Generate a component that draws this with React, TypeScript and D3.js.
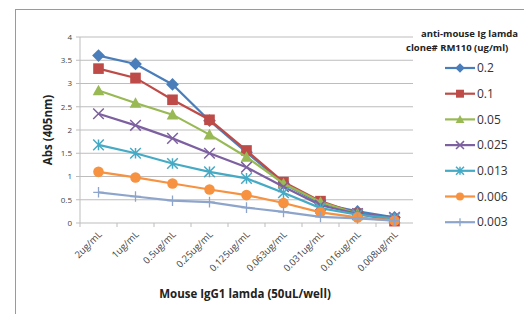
import React from "react";
import * as d3 from "d3";

const categories = ["2ug/mL", "1ug/mL", "0.5ug/mL", "0.25ug/mL", "0.125ug/mL", "0.063ug/mL", "0.031ug/mL", "0.016ug/mL", "0.008ug/mL"];
const seriesNames = ["0.2", "0.1", "0.05", "0.025", "0.013", "0.006", "0.003"];
const s02 = [3.6, 3.42, 2.98, 2.2, 1.52, 0.85, 0.42, 0.25, 0.12];
const s01 = [3.32, 3.12, 2.65, 2.22, 1.56, 0.88, 0.47, 0.2, 0.04];
const s005 = [2.85, 2.58, 2.33, 1.9, 1.42, 0.85, 0.45, 0.2, 0.1];
const s0025 = [2.35, 2.1, 1.82, 1.5, 1.2, 0.78, 0.38, 0.2, 0.12];
const s0013 = [1.68, 1.5, 1.28, 1.1, 0.96, 0.65, 0.32, 0.18, 0.1];
const s0006 = [1.1, 0.98, 0.85, 0.72, 0.6, 0.43, 0.23, 0.12, 0.05];
const s0003 = [0.66, 0.57, 0.48, 0.45, 0.33, 0.24, 0.13, 0.1, 0.05];
const yTicks = [0, 0.5, 1, 1.5, 2, 2.5, 3, 3.5, 4];

const seriesValues = [s02, s01, s005, s0025, s0013, s0006, s0003];
const colors = ["#4A7EBB", "#BE4B48", "#98B954", "#7D60A0", "#46AAC5", "#F69240", "#8EA5CB"];
const markers = ["diamond", "square", "triangle", "x", "star", "circle", "plus"];

function Marker({ type, x, y, color, s = 1 }: { type: string; x: number; y: number; color: string; s?: number }) {
  const r = 5.3 * s;
  switch (type) {
    case "diamond":
      return <path d={`M${x},${y - r * 1.2}L${x + r * 1.2},${y}L${x},${y + r * 1.2}L${x - r * 1.2},${y}Z`} fill={color} />;
    case "square":
      return <rect x={x - r} y={y - r} width={2 * r} height={2 * r} fill={color} />;
    case "triangle":
      return <path d={`M${x},${y - r * 1.1}L${x + r * 1.1},${y + r * 0.9}L${x - r * 1.1},${y + r * 0.9}Z`} fill={color} />;
    case "x":
      return <path d={`M${x - r},${y - r}L${x + r},${y + r}M${x - r},${y + r}L${x + r},${y - r}`} stroke={color} strokeWidth={1.5} />;
    case "star":
      return <path d={`M${x - r},${y - r}L${x + r},${y + r}M${x - r},${y + r}L${x + r},${y - r}M${x},${y - r}L${x},${y + r}`} stroke={color} strokeWidth={1.5} />;
    case "circle":
      return <circle cx={x} cy={y} r={r} fill={color} />;
    case "plus":
      return <path d={`M${x - r},${y}L${x + r},${y}M${x},${y - r}L${x},${y + r}`} stroke={color} strokeWidth={1.3} />;
  }
  return null;
}

export default function App() {
  const W = 524, H = 314;
  const left = 80, right = 413, top = 37, bottom = 223;
  const x = d3.scaleBand<string>().domain(categories).range([left, right]);
  const y = d3.scaleLinear().domain([0, 4]).range([bottom, top]);
  const cx = (c: string) => (x(c) as number) + x.bandwidth() / 2;
  const line = d3.line<number>().x((_, i) => cx(categories[i])).y((v) => y(v));
  const legendY = (i: number) => 68 + i * 25.7;

  return (
    <svg width={W} height={H} style={{ position: "absolute", left: 0, top: 0, background: "#fff" }} fontFamily="Open Sans, Noto Sans, sans-serif">
      <rect x={15.5} y={9.5} width={520} height={320} fill="#fff" stroke="#9a9a9a" />
      {yTicks.map((t) => (
        <g key={t}>
          <line x1={left - 4} x2={right} y1={y(t)} y2={y(t)} stroke="#bdbdbd" strokeWidth={1} />
          <text x={left - 8} y={y(t)} dy="0.35em" textAnchor="end" fontSize={8} fill="#444">{t}</text>
        </g>
      ))}
      <line x1={left} x2={left} y1={top} y2={bottom} stroke="#bdbdbd" />
      {categories.map((c) => (
        <g key={c}>
          <line x1={(x(c) as number)} x2={(x(c) as number)} y1={bottom} y2={bottom + 4} stroke="#bdbdbd" />
          <text transform={`translate(${cx(c) + 4},${bottom + 12}) rotate(-45)`} textAnchor="end" fontSize={9.5} fill="#444">{c}</text>
        </g>
      ))}
      {seriesValues.map((vals, si) => (
        <g key={si}>
          <path d={line(vals) || ""} fill="none" stroke={colors[si]} strokeWidth={2.2} />
          {vals.map((v, i) => (
            <Marker key={i} type={markers[si]} x={cx(categories[i])} y={y(v)} color={colors[si]} />
          ))}
        </g>
      ))}
      <text transform={`translate(52,${(top + bottom) / 2}) rotate(-90)`} textAnchor="middle" fontSize={11.5} fontWeight="bold" fill="#222">Abs (405nm)</text>
      <text x={245} y={298} textAnchor="middle" fontSize={11.5} fontWeight="bold" fill="#222">Mouse IgG1 lamda (50uL/well)</text>
      <text x={421} y={37} fontSize={9.5} fontWeight="bold" fill="#222">anti-mouse Ig lamda</text>
      <text x={406} y={51} fontSize={9.5} fontWeight="bold" fill="#222">clone# RM110 (ug/ml)</text>
      {seriesNames.map((n, i) => (
        <g key={n}>
          <line x1={445} x2={475} y1={legendY(i)} y2={legendY(i)} stroke={colors[i]} strokeWidth={2.2} />
          <Marker type={markers[i]} x={460} y={legendY(i)} color={colors[i]} s={0.75} />
          <text x={477} y={legendY(i)} dy="0.35em" fontSize={12} fill="#333">{n}</text>
        </g>
      ))}
    </svg>
  );
}
